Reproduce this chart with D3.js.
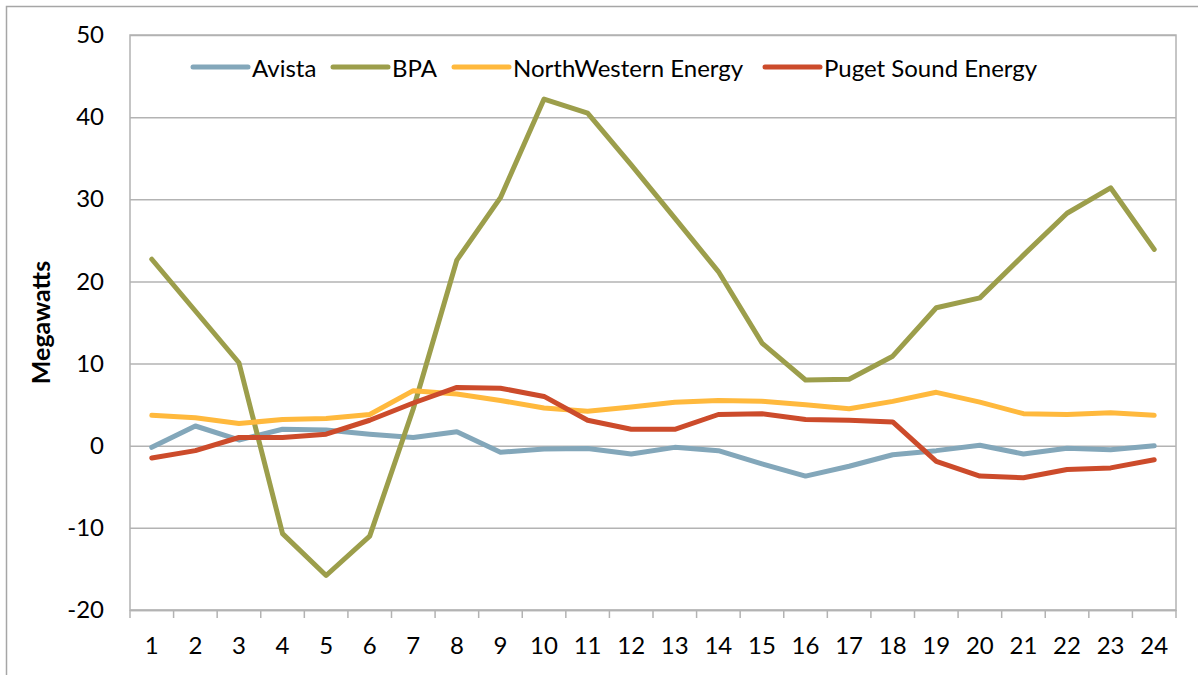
<!DOCTYPE html>
<html>
<head>
<meta charset="utf-8">
<script src="https://cdn.jsdelivr.net/npm/d3@7"></script>
<style>
  body { margin: 0; background: #fff; }
  svg { display: block; font-family: Lato, "Open Sans", sans-serif; }
</style>
</head>
<body>
<div id="chart"></div>
<script>
// hours of the day
const hours = d3.range(1, 25);

// megawatts per utility
const avista = [-0.2, 2.4, 0.7, 2.0, 1.9, 1.4, 1.0, 1.7, -0.8, -0.4, -0.35, -1.0,
                -0.2, -0.6, -2.2, -3.7, -2.5, -1.1, -0.6, 0.05, -1.0, -0.3, -0.5, 0.0];
const bpa = [22.7, 16.4, 10.1, -10.7, -15.8, -11.0, 4.5, 22.6, 30.2, 42.2, 40.5, 34.2,
             27.7, 21.2, 12.5, 8.0, 8.1, 10.9, 16.8, 18.0, 23.2, 28.3, 31.4, 23.9];
const northwestern = [3.7, 3.4, 2.7, 3.2, 3.3, 3.8, 6.7, 6.3, 5.5, 4.6, 4.2, 4.7,
                      5.3, 5.5, 5.4, 5.0, 4.5, 5.4, 6.5, 5.3, 3.9, 3.8, 4.0, 3.7];
const puget = [-1.5, -0.6, 1.0, 1.0, 1.4, 3.1, 5.2, 7.1, 7.0, 6.0, 3.1, 2.0,
               2.0, 3.8, 3.9, 3.2, 3.1, 2.9, -1.9, -3.7, -3.9, -2.9, -2.7, -1.7];

const seriesNames = ["Avista", "BPA", "NorthWestern Energy", "Puget Sound Energy"];
const seriesValues = [avista, bpa, northwestern, puget];
const seriesColors = ["#83a7ba", "#9c9e4b", "#ffb93d", "#cc4b2b"];

const yTicks = [-20, -10, 0, 10, 20, 30, 40, 50];

const width = 1198;
const height = 675;
const margin = {top: 35, right: 22, bottom: 65, left: 130};
const innerWidth = width - margin.left - margin.right;
const innerHeight = height - margin.top - margin.bottom;

const svg = d3.select("#chart")
    .append("svg")
    .attr("width", width)
    .attr("height", height);

// outer chart frame, only left and top edges show in the picture
svg.append("path")
    .attr("d", `M6.5,${height} V6.5 H${width}`)
    .attr("fill", "none")
    .attr("stroke", "#a6a6a6")
    .attr("stroke-width", 1.5);

const innerChart = svg.append("g")
    .attr("transform", `translate(${margin.left}, ${margin.top})`);

const xScale = d3.scaleBand()
    .domain(hours)
    .range([0, innerWidth]);

const yScale = d3.scaleLinear()
    .domain([-20, 50])
    .range([innerHeight, 0]);

// gridlines + left labels
const leftAxis = d3.axisLeft(yScale)
    .tickValues(yTicks)
    .tickFormat(d => String(d))
    .tickSize(-innerWidth)
    .tickPadding(26);

innerChart.append("g")
    .attr("class", "axis-y")
    .call(leftAxis)
    .call(g => g.select(".domain").remove())
    .call(g => g.selectAll(".tick line")
        .attr("stroke", "#b3b3b3")
        .attr("stroke-width", 1.5))
    .call(g => g.selectAll(".tick text")
        .attr("fill", "#000")
        .style("font-size", "24px")
        .style("font-family", "Lato, sans-serif"));

// plot area border
innerChart.append("rect")
    .attr("x", 0)
    .attr("y", 0)
    .attr("width", innerWidth)
    .attr("height", innerHeight)
    .attr("fill", "none")
    .attr("stroke", "#b3b3b3")
    .attr("stroke-width", 1.5);

// bottom axis: ticks sit between categories
const bottomAxis = d3.axisBottom(xScale)
    .tickSize(0)
    .tickPadding(27);

innerChart.append("g")
    .attr("class", "axis-x")
    .attr("transform", `translate(0, ${innerHeight})`)
    .call(bottomAxis)
    .call(g => g.select(".domain").attr("stroke", "#b3b3b3").attr("stroke-width", 1.5))
    .call(g => g.selectAll(".tick text")
        .attr("fill", "#000")
        .style("font-size", "24px")
        .style("font-family", "Lato, sans-serif"));

const boundaries = d3.range(0, hours.length + 1).map(i => i * xScale.step());
innerChart.append("g")
    .attr("class", "x-ticks")
    .selectAll("line")
    .data(boundaries)
    .join("line")
        .attr("x1", d => d)
        .attr("x2", d => d)
        .attr("y1", innerHeight)
        .attr("y2", innerHeight + 8)
        .attr("stroke", "#b3b3b3")
        .attr("stroke-width", 1.5);

// y title
svg.append("text")
    .text("Megawatts")
    .attr("transform", `translate(40, ${margin.top + innerHeight / 2}) rotate(-90)`)
    .attr("text-anchor", "middle")
    .attr("dominant-baseline", "central")
    .attr("font-weight", "bold")
    .style("font-size", "25px");

// lines
const lineGenerator = d3.line()
    .x((d, i) => xScale(hours[i]) + xScale.bandwidth() / 2)
    .y(d => yScale(d));

innerChart.append("g")
    .attr("class", "lines")
    .selectAll("path")
    .data(seriesValues)
    .join("path")
        .attr("d", d => lineGenerator(d))
        .attr("fill", "none")
        .attr("stroke", (d, i) => seriesColors[i])
        .attr("stroke-width", 5)
        .attr("stroke-linejoin", "round")
        .attr("stroke-linecap", "round");

// legend
const legendX = [193, 333, 454, 765];
const legend = svg.append("g")
    .attr("class", "legend")
    .selectAll("g")
    .data(seriesNames)
    .join("g")
        .attr("class", "legend-item")
        .attr("transform", (d, i) => `translate(${legendX[i]}, 67)`);

legend.append("line")
    .attr("x1", 0)
    .attr("x2", 55)
    .attr("stroke", (d, i) => seriesColors[i])
    .attr("stroke-width", 5)
    .attr("stroke-linecap", "round");

legend.append("text")
    .text(d => d)
    .attr("x", 59)
    .attr("dominant-baseline", "central")
    .style("font-size", "24px");
</script>
</body>
</html>
